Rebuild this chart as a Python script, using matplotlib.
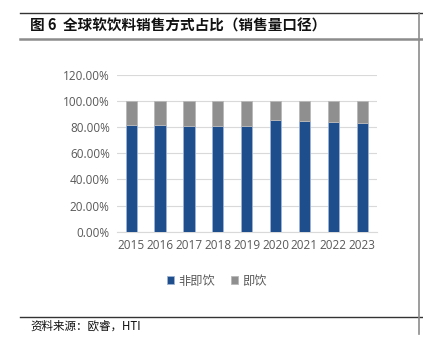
import numpy as np
import matplotlib.pyplot as plt
from matplotlib.lines import Line2D

plt.rcParams['font.family'] = ['Noto Sans CJK SC', 'DejaVu Sans']

years = ['2015', '2016', '2017', '2018', '2019', '2020', '2021', '2022', '2023']
non_instant = [81.6, 81.6, 81.3, 81.3, 81.2, 85.7, 84.7, 83.9, 83.4]
instant = [100 - v for v in non_instant]
series_names = ['非即饮', '即饮']
yticks = [0, 20, 40, 60, 80, 100, 120]

W, H = 423, 338
fig = plt.figure(figsize=(W / 100, H / 100), dpi=100)

# frame lines of the report page
def hline(y, x0, x1, color, lw):
    fig.add_artist(Line2D([x0 / W, x1 / W], [1 - y / H, 1 - y / H], color=color, lw=lw))

hline(13, 20, 423, '#333333', 1.0)
hline(38.7, 20, 423, '#8c8c8c', 1.8)
hline(316.7, 20, 423, '#333333', 1.0)
fig.add_artist(Line2D([419.3 / W, 419.3 / W], [1 - 13 / H, 1 - 334 / H], color='#8c8c8c', lw=1.2))

fig.text(30 / W, 1 - 25.5 / H, '图 6  全球软饮料销售方式占比（销售量口径）',
         fontsize=10.5, fontweight='bold', va='center', ha='left', color='#111111')
fig.text(30 / W, 1 - 326 / H, '资料来源：欧睿，HTI', fontsize=8.3,
         va='center', ha='left', color='#111111')

# plot area
left, right = 116.7, 376.7
bottom, top = 231.7, 75
ax = fig.add_axes([left / W, 1 - bottom / H, (right - left) / W, (bottom - top) / H])

x = np.arange(len(years))
bw = 0.39
ax.bar(x, non_instant, width=bw, color='#1f4e8c', edgecolor='#9db4d6', linewidth=0.6,
       label=series_names[0], zorder=3)
ax.bar(x, instant, width=bw, bottom=non_instant, color='#8f8f8f', edgecolor='#b8b8b8',
       linewidth=0.6, label=series_names[1], zorder=3)

ax.set_xlim(-0.5, len(years) - 0.5)
ax.set_ylim(0, 120)
ax.set_yticks(yticks)
ax.set_yticklabels(['%.2f%%' % v for v in yticks])
ax.set_xticks(x)
ax.set_xticklabels(years)
ax.tick_params(length=0, labelsize=8.5, labelcolor='#595959', pad=5)
for lab in ax.get_xticklabels() + ax.get_yticklabels():
    lab.set_family(['Open Sans', 'DejaVu Sans'])
ax.grid(axis='y', color='#d9d9d9', lw=0.8, zorder=0)
for s in ['top', 'right', 'left']:
    ax.spines[s].set_visible(False)
ax.spines['bottom'].set_color('#d9d9d9')

fig.legend(loc='center', bbox_to_anchor=(217 / W, 1 - 281 / H), ncol=2, frameon=False,
           fontsize=8.8, handlelength=0.55, handleheight=0.55, handletextpad=0.4,
           columnspacing=1.3, labelcolor='#595959')

fig.savefig('out.png', dpi=100)
